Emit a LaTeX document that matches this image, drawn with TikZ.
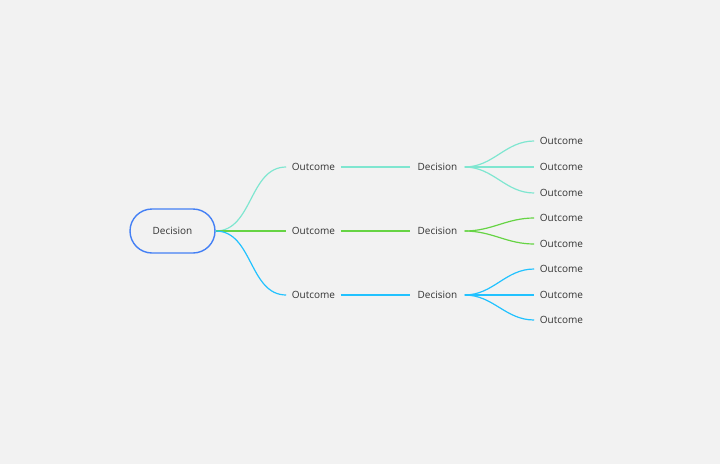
\documentclass[tikz,border=0pt]{standalone}
\usepackage{fontspec}
\setmainfont{Open Sans}
\usepackage{tikz}

\definecolor{bgc}{HTML}{F2F2F2}
\definecolor{txt}{HTML}{333333}
\definecolor{rootblue}{HTML}{4480F5}
\definecolor{tealc}{HTML}{7FE6D0}
\definecolor{greenc}{HTML}{66D444}
\definecolor{cyanc}{HTML}{22C2FF}

\begin{document}
\begin{tikzpicture}[x=1pt, y=-1pt,
		every node/.style={font=\fontsize{10}{12}\selectfont, text=txt},
		root/.style={draw=rootblue, line width=1.4pt, rounded corners=22pt, minimum width=85pt, minimum height=44pt},
		item/.style={inner xsep=5.5pt},
		branch/.style={line width=1.2pt, out=0, in=180}]
				\fill[bgc] (0,0) rectangle (720,464);
				% first level
				\node[root] (dec) at (172.5,231) {Decision};
				\node[item] (outA) at (313.5,167) {Outcome};
				\node[item] (outB) at (313.5,231) {Outcome};
				\node[item] (outC) at (313.5,295) {Outcome};
				\draw[branch, tealc] (dec.east) to (outA.west);
				\draw[branch, greenc] (dec.east) to (outB.west);
				\draw[branch, cyanc] (dec.east) to (outC.west);
				% second level
				\node[item, inner xsep=7pt] (decA) at (437.5,167) {Decision};
				\node[item, inner xsep=7pt] (decB) at (437.5,231) {Decision};
				\node[item, inner xsep=7pt] (decC) at (437.5,295) {Decision};
				\draw[branch, tealc] (outA.east) -- (decA.west);
				\draw[branch, greenc] (outB.east) -- (decB.west);
				\draw[branch, cyanc] (outC.east) -- (decC.west);
				% third level
				\node[item] (outA1) at (561.5,141) {Outcome};
				\node[item] (outA2) at (561.5,167) {Outcome};
				\node[item] (outA3) at (561.5,193) {Outcome};
				\node[item] (outB1) at (561.5,218) {Outcome};
				\node[item] (outB2) at (561.5,244) {Outcome};
				\node[item] (outC1) at (561.5,269) {Outcome};
				\node[item] (outC2) at (561.5,295) {Outcome};
				\node[item] (outC3) at (561.5,320) {Outcome};
				\draw[branch, tealc] (decA.east) to (outA1.west);
				\draw[branch, tealc] (decA.east) to (outA2.west);
				\draw[branch, tealc] (decA.east) to (outA3.west);
				\draw[branch, greenc] (decB.east) to (outB1.west);
				\draw[branch, greenc] (decB.east) to (outB2.west);
				\draw[branch, cyanc] (decC.east) to (outC1.west);
				\draw[branch, cyanc] (decC.east) to (outC2.west);
				\draw[branch, cyanc] (decC.east) to (outC3.west);
		\end{tikzpicture}
\end{document}
